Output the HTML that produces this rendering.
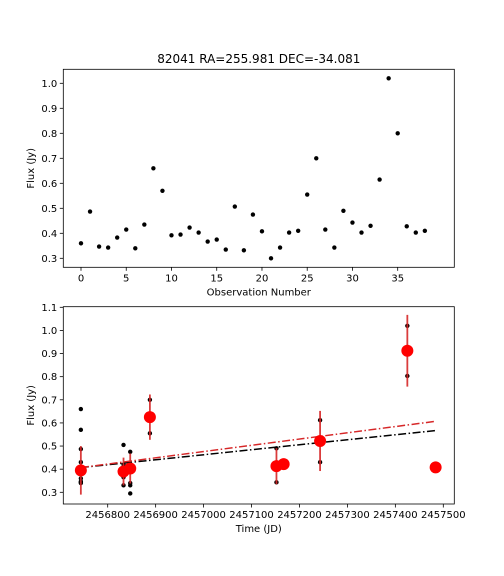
<!DOCTYPE html>
<html><head><meta charset="utf-8"><style>
html,body{margin:0;padding:0;background:#fff;width:504px;height:576px;overflow:hidden}
svg{display:block;font-family:"DejaVu Sans","Liberation Sans",sans-serif}
</style></head><body>
<svg id="fig" width="504" height="576" xmlns="http://www.w3.org/2000/svg"></svg>
<script>
// Top chart data
const obsFlux = [0.36,0.487,0.347,0.343,0.383,0.415,0.34,0.435,0.66,0.57,0.392,0.395,0.423,0.403,0.367,0.375,0.335,0.507,0.332,0.475,0.408,0.3,0.343,0.403,0.41,0.555,0.7,0.415,0.343,0.49,0.443,0.403,0.43,0.615,1.02,0.8,0.428,0.403,0.41];
const topXTicks = [0,5,10,15,20,25,30,35];
const topYTicks = [0.3,0.4,0.5,0.6,0.7,0.8,0.9,1.0];
// Bottom chart data
const ptTime = [2456744,2456744,2456744,2456744,2456744,2456744,2456744,2456744,2456833,2456833,2456833,2456833,2456833,2456847,2456847,2456847,2456847,2456888,2456888,2457152,2457152,2457167,2457243,2457243,2457425,2457425,2457484];
const ptFlux = [0.66,0.57,0.487,0.43,0.36,0.347,0.343,0.34,0.505,0.42,0.4,0.365,0.33,0.475,0.34,0.33,0.295,0.7,0.555,0.49,0.343,0.43,0.612,0.43,1.02,0.803,0.41];
const binTime = [2456744,2456833,2456847,2456888,2457152,2457167,2457243,2457425,2457484];
const binMean = [0.395,0.39,0.403,0.625,0.413,0.422,0.522,0.912,0.408];
const binErr = [0.105,0.06,0.065,0.098,0.078,0.018,0.13,0.155,0];
const fitX = [2456744,2457484];
const fitBlack = [0.407,0.567];
const fitRed = [0.407,0.607];
const botXTicks = [2456800,2456900,2457000,2457100,2457200,2457300,2457400,2457500];
const botYTicks = [0.3,0.4,0.5,0.6,0.7,0.8,0.9,1.0,1.1];

const NS="http://www.w3.org/2000/svg";
const svg=document.getElementById('fig');
function mk(tag,attrs,parent,text){const e=document.createElementNS(NS,tag);for(const k in attrs)e.setAttribute(k,attrs[k]);if(text!==undefined)e.textContent=text;(parent||svg).appendChild(e);return e;}

// Axes geometry
const L=63.3,R=454.3;
const tx=v=>81+(v-0)*(397.7-81)/35;
const ty=v=>258.3+(v-0.3)*(83.3-258.3)/0.7;
const bx=v=>107.7+(v-2456800)*(443.3-107.7)/700;
const by=v=>492.3+(v-0.3)*(307.3-492.3)/0.8;

function axes(top,bottom,xt,xf,xl,yt,yf,yl,name,fmtX,fmtY){
  const g=mk('g',{},svg);
  
  
  xt.forEach(t=>{const x=xf(t);mk('line',{x1:x,x2:x,y1:bottom,y2:bottom+3.5,stroke:'#000','stroke-width':0.8},g);
    const tl=mk('text',{x:x,y:bottom+14,'font-size':10,'text-anchor':'middle'},g,fmtX(t));
    });
  yt.forEach(t=>{const y=yf(t);mk('line',{x1:L-3.5,x2:L,y1:y,y2:y,stroke:'#000','stroke-width':0.8},g);
    const tl=mk('text',{x:L-6,y:y+3.5,'font-size':10,'text-anchor':'end'},g,fmtY(t));
    });
  const xa=mk('text',{x:(L+R)/2,y:bottom+28,'font-size':10,'text-anchor':'middle'},g,xl);
  
  const cy=(top+bottom)/2;
  const ya=mk('text',{x:34,y:cy,'font-size':10,'text-anchor':'middle',transform:`rotate(-90 34 ${cy})`},g,yl);
  
  return g;
}
function frame(top,bottom,name){const r=mk('rect',{x:L,y:top,width:R-L,height:bottom-top,fill:'none',stroke:'#000','stroke-width':0.8});
  }

// Title
const title=mk('text',{x:(L+R)/2,y:63,'font-size':12,'text-anchor':'middle'},svg,'82041 RA=255.981 DEC=-34.081');



// Top chart
axes(69.3,267.3,topXTicks,tx,'Observation Number',topYTicks,ty,'Flux (Jy)','top-axes',t=>String(t),t=>t.toFixed(1));
obsFlux.forEach((v,i)=>{const c=mk('circle',{cx:tx(i),cy:ty(v),r:2.2,fill:'#000'});
  
  });
frame(69.3,267.3,'top-plot-frame');

// Bottom chart
axes(306.7,504,botXTicks,bx,'Time (JD)',botYTicks,by,'Flux (Jy)','bottom-axes',t=>String(t),t=>t.toFixed(1));
ptTime.forEach((t,i)=>{const c=mk('circle',{cx:bx(t),cy:by(ptFlux[i]),r:2.2,fill:'#000'});
  
  });
binTime.forEach((t,i)=>{const x=bx(t);
  if(binErr[i]>0){const e=mk('line',{x1:x,x2:x,y1:by(binMean[i]-binErr[i]),y2:by(binMean[i]+binErr[i]),stroke:'#d62728','stroke-width':1.8,opacity:0.9});
    }
});
const lb=mk('line',{x1:bx(fitX[0]),y1:by(fitBlack[0]),x2:bx(fitX[1]),y2:by(fitBlack[1]),stroke:'#000','stroke-width':1.5,'stroke-dasharray':'8,2.5,1.5,2.5'});


const lr=mk('line',{x1:bx(fitX[0]),y1:by(fitRed[0]),x2:bx(fitX[1]),y2:by(fitRed[1]),stroke:'#d62728','stroke-width':1.5,'stroke-dasharray':'8,2.5,1.5,2.5'});


binTime.forEach((t,i)=>{const c=mk('circle',{cx:bx(t),cy:by(binMean[i]),r:6,fill:'#ff0000'});
  
  });
frame(306.7,504,'bottom-plot-frame');
</script>
</body></html>
